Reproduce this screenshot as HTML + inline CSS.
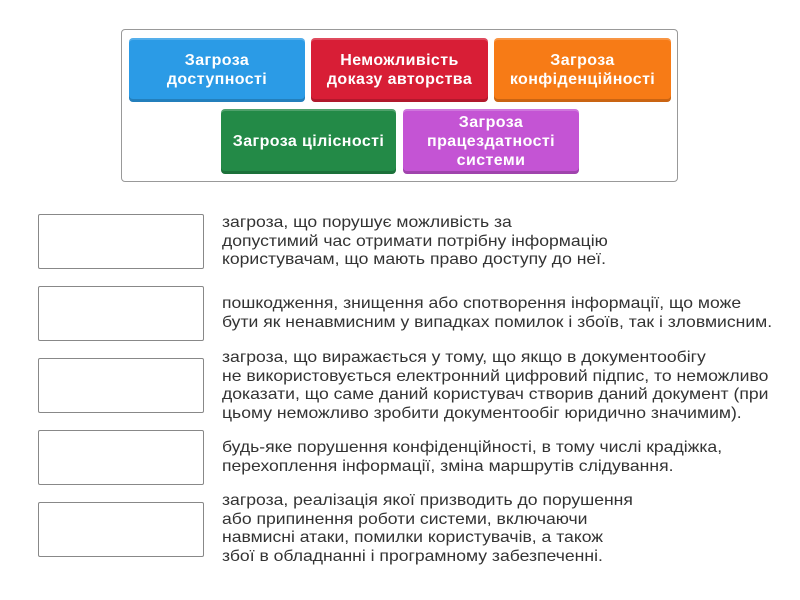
<!DOCTYPE html>
<html><head><meta charset="utf-8"><style>
body{margin:0;width:800px;height:600px;background:#fff;position:relative;font-family:"Liberation Sans","DejaVu Sans",sans-serif;overflow:hidden}
.outer{position:absolute;left:121px;top:29px;width:557px;height:153px;border:1px solid #999;border-radius:4px;box-sizing:border-box}
.t{position:absolute;border-radius:4px;color:#fff;font-weight:bold;font-size:16px;letter-spacing:0.4px;line-height:19px;display:flex;align-items:center;justify-content:center;text-align:center;box-sizing:border-box;box-shadow:inset 0 -3px 0 rgba(0,0,0,.18),inset 0 2px 0 rgba(255,255,255,.2)}
.b{position:absolute;left:38px;width:166px;height:55px;border:1px solid #888;border-radius:2px;box-sizing:border-box}
.x{position:absolute;left:222px;font-size:16px;line-height:18.5px;color:#333;white-space:nowrap;transform-origin:0 0;transform:scaleX(1.098)}
</style></head><body>
<div class="outer"></div>
<div class="t" style="left:129px;top:38px;width:176px;height:64px;background:#2b9be6">Загроза<br>доступності</div>
<div class="t" style="left:311px;top:38px;width:177px;height:64px;background:#d81e36">Неможливість<br>доказу авторства</div>
<div class="t" style="left:494px;top:38px;width:177px;height:64px;background:#f77b16">Загроза<br>конфіденційності</div>
<div class="t" style="left:221px;top:109px;width:175px;height:65px;background:#238a47">Загроза цілісності</div>
<div class="t" style="left:403px;top:109px;width:176px;height:65px;background:#c454d4">Загроза<br>працездатності<br>системи</div>
<div class="b" style="top:214px"></div>
<div class="b" style="top:286px"></div>
<div class="b" style="top:358px"></div>
<div class="b" style="top:430px"></div>
<div class="b" style="top:502px"></div>
<div class="x" style="top:214px">загроза, що порушує можливість за<br>допустимий час отримати потрібну інформацію<br>користувачам, що мають право доступу до неї.</div>
<div class="x" style="top:295px">пошкодження, знищення або спотворення інформації, що може<br>бути як ненавмисним у випадках помилок і збоїв, так і зловмисним.</div>
<div class="x" style="top:349px">загроза, що виражається у тому, що якщо в документообігу<br>не використовується електронний цифровий підпис, то неможливо<br>доказати, що саме даний користувач створив даний документ (при<br>цьому неможливо зробити документообіг юридично значимим).</div>
<div class="x" style="top:439px">будь-яке порушення конфіденційності, в тому числі крадіжка,<br>перехоплення інформації, зміна маршрутів слідування.</div>
<div class="x" style="top:492px">загроза, реалізація якої призводить до порушення<br>або припинення роботи системи, включаючи<br>навмисні атаки, помилки користувачів, а також<br>збої в обладнанні і програмному забезпеченні.</div>
</body></html>
